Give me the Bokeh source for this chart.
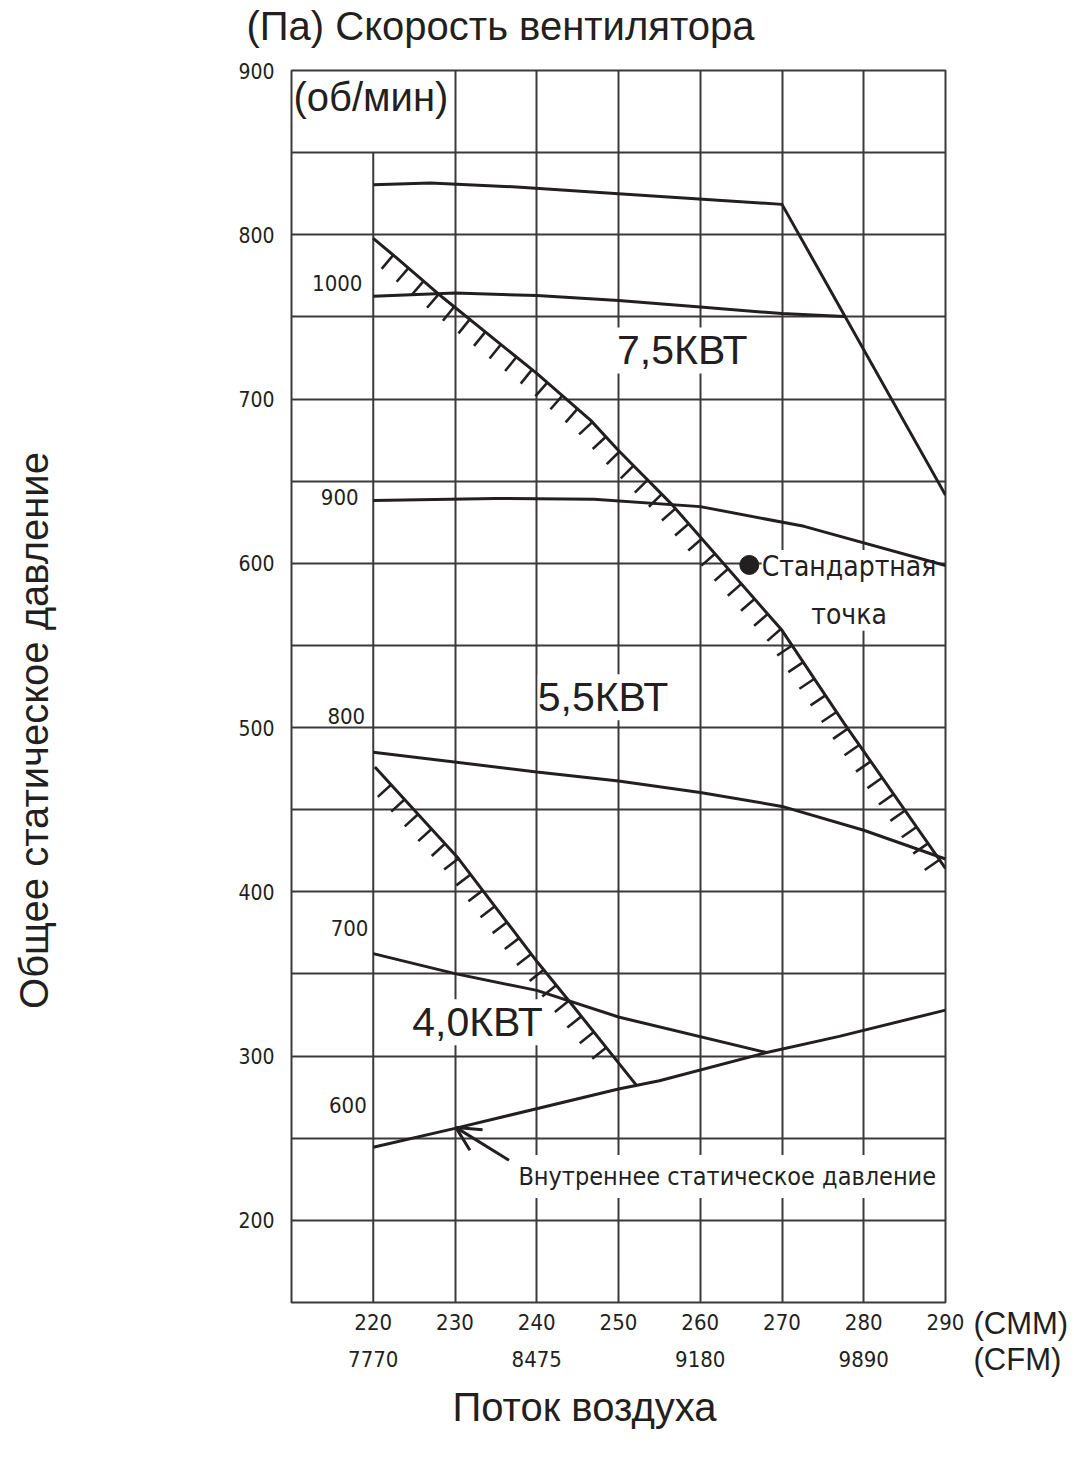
import numpy as np
from bokeh.plotting import figure
from bokeh.layouts import row
from bokeh.models import FixedTicker, LinearAxis, Label, Arrow, OpenHead, Range1d, ColumnDataSource, Title
from bokeh.core.properties import value
from bokeh.embed import file_html
from bokeh.resources import INLINE

# ---------------- data ----------------
x_ticks_cmm = [220, 230, 240, 250, 260, 270, 280, 290]
x_ticks_cfm = [220, 240, 260, 280]
cfm_labels = ["7770", "8475", "9180", "9890"]
y_ticks = [200, 300, 400, 500, 600, 700, 800, 900]
y_grid = [200, 250, 300, 350, 400, 450, 500, 550, 600, 650, 700, 750, 800, 850]
x_grid = [230, 240, 250, 260, 270, 280]

# fan-speed curves
top_x = [220, 227, 238, 250, 270, 290]
top_y = [830.5, 831.5, 829, 825, 818.5, 641.5]
rpm1000_x = [220, 230, 240, 250, 260, 270, 277.6]
rpm1000_y = [762.5, 764.5, 763, 760, 756, 752, 750.3]
rpm900_x = [220, 235, 247, 260, 272.7, 290]
rpm900_y = [638.3, 639.5, 639, 634.5, 622.5, 598.7]
rpm800_x = [220, 240, 250, 260, 270, 280, 290]
rpm800_y = [485, 473, 467.5, 460.5, 452, 437.5, 420]
rpm700_x = [220, 230, 240, 250, 268]
rpm700_y = [362.4, 350.2, 340, 323.8, 302.3]
# internal static pressure
isp_x = [220, 230, 250, 255, 268, 277, 290]
isp_y = [244.5, 256, 280, 285, 302, 312, 328]
# power limit lines
lim75_x = [220, 222.5, 228.5, 240, 246.6, 250, 256.4, 270, 277.6, 290]
lim75_y = [797.8, 787.4, 761.8, 715.6, 687, 668.7, 636.5, 559.2, 502.6, 414.3]
lim40_x = [220.2, 230.4, 240.1, 244.2, 252.2]
lim40_y = [476, 420.4, 357.1, 332, 282.2]
# standard point
std_x = [266]
std_y = [599]
# rpm labels
rpm_names = ["1000", "900", "800", "700", "600"]
rpm_lx = [215.6, 215.9, 216.7, 217.1, 216.9]
rpm_ly = [770.4, 640.4, 506.8, 377.8, 270.1]
unit_names = ["(CMM)", "(CFM)"]
y_title = "Общее статическое давление"

# ---------------- figure ----------------
X0, X1, Y0, Y1 = 210, 290, 150, 900
FW, FH = 654, 1232
TOP, LEFT, RIGHT = 70, 291, 25
LEFT_W = 80
INK = "#231f20"
GRID = "#3a3a3a"
NARROW = "DejaVu Sans Condensed"
SANS = "Liberation Sans"
TOTAL_W, TOTAL_H = 1074, 1463

p = figure(x_range=Range1d(X0, X1), y_range=Range1d(Y0, Y1),
           frame_width=FW, frame_height=FH,
           min_border_left=LEFT - LEFT_W, min_border_right=RIGHT,
           min_border_top=TOP, min_border_bottom=TOTAL_H - TOP - FH,
           output_backend="svg", toolbar_location=None, title=None)
p.background_fill_color = "white"
p.border_fill_color = "white"
p.outline_line_color = GRID
p.outline_line_width = 2

p.xgrid.ticker = FixedTicker(ticks=x_grid)
p.ygrid.ticker = FixedTicker(ticks=y_grid)
for g in (p.xgrid[0], p.ygrid[0]):
    g.grid_line_color = GRID
    g.grid_line_width = 2
grid220_top = 850
p.segment(x0=[220], y0=[Y0], x1=[220], y1=[grid220_top], line_color=GRID, line_width=2)

# axes
ax = p.xaxis[0]
ax.ticker = FixedTicker(ticks=x_ticks_cmm)
ax2 = LinearAxis(ticker=FixedTicker(ticks=x_ticks_cfm),
                 major_label_overrides={k: v for k, v in zip(x_ticks_cfm, cfm_labels)})
p.add_layout(ax2, "below")
ay = p.yaxis[0]
ay.ticker = FixedTicker(ticks=y_ticks)
for a in (ax, ax2, ay):
    a.axis_line_color = None
    a.major_tick_line_color = None
    a.minor_tick_line_color = None
    a.major_tick_out = 0
    a.major_tick_in = 0
    a.major_label_text_font = NARROW
    a.major_label_text_color = INK
ax.major_label_text_font_size = "22px"
ax2.major_label_text_font_size = "22px"
ax.major_label_standoff = 11
ax2.major_label_standoff = 18
ay.major_label_text_font_size = "21px"
ay.major_label_standoff = 17

# titles (a thin spacer panel sits between the frame and the title)
p.add_layout(Title(text=" ", text_font_size="1px", standoff=19), "above")
p.add_layout(Title(text="(Па) Скорость вентилятора", align="left", offset=-45,
                   vertical_align="middle", standoff=0, text_font=SANS,
                   text_font_size="40px", text_font_style="normal", text_color=INK), "above")
p.add_layout(Title(text="Поток воздуха", align="left", offset=161,
                   vertical_align="middle", standoff=28, text_font=SANS,
                   text_font_size="40px", text_font_style="normal", text_color=INK), "below")

# curves
for xs, ys in [(top_x, top_y), (rpm1000_x, rpm1000_y), (rpm900_x, rpm900_y),
               (rpm800_x, rpm800_y), (rpm700_x, rpm700_y), (isp_x, isp_y),
               (lim75_x, lim75_y), (lim40_x, lim40_y)]:
    p.line(xs, ys, line_color=INK, line_width=3)


def hatch(xs, ys, start, step, end_margin):
    sx = (np.array(xs) - X0) / (X1 - X0) * FW
    sy = (np.array(ys) - Y0) / (Y1 - Y0) * FH
    seg = np.hypot(np.diff(sx), np.diff(sy))
    cum = np.concatenate([[0], np.cumsum(seg)])
    hx, hy, ha = [], [], []
    s = start
    while s < cum[-1] - end_margin:
        i = min(int(np.searchsorted(cum, s, side="right")) - 1, len(seg) - 1)
        t = (s - cum[i]) / seg[i]
        px = sx[i] + t * (sx[i + 1] - sx[i])
        py = sy[i] + t * (sy[i + 1] - sy[i])
        dx = (sx[i + 1] - sx[i]) / seg[i]
        dy = (sy[i + 1] - sy[i]) / seg[i]
        hx.append(X0 + px / FW * (X1 - X0))
        hy.append(Y0 + py / FH * (Y1 - Y0))
        ha.append(float(np.arctan2(-dx, dy)))
        s += step
    return hx, hy, ha


for xs, ys, st, mg in [(lim75_x, lim75_y, 26, 8), (lim40_x, lim40_y, 24, 30)]:
    hx, hy, ha = hatch(xs, ys, st, 20, mg)
    p.ray(x=hx, y=hy, length=18, angle=ha, length_units="screen",
          line_color=INK, line_width=2.6)

p.scatter(std_x, std_y, size=19, color=INK)

src = ColumnDataSource(dict(x=rpm_lx, y=rpm_ly, t=rpm_names))
p.text(x="x", y="y", text="t", source=src, text_font=value(NARROW),
       text_font_size="22px", text_align="center", text_baseline="middle",
       text_color=INK)

# arrow to internal static pressure line
p.add_layout(Arrow(end=OpenHead(size=24, line_width=3, line_color=INK),
                   x_start=236.6, y_start=236.6, x_end=230.1, y_end=256.6,
                   line_width=3, line_color=INK))


def lab(x, y, text, font, size, align="center", xo=0, yo=0, bg=False, lh=1.2, pad=0):
    kw = dict(x=x, y=y, text=text, text_font=font, text_font_size=size,
              text_align=align, text_baseline="middle", x_offset=xo, y_offset=yo,
              text_color=INK, text_line_height=lh)
    if bg:
        kw.update(background_fill_color="white", level="underlay")
    if pad:
        kw.update(padding=pad)
    p.add_layout(Label(**kw))


lab(210, 884, "(об/мин)", SANS, "40px", align="left", xo=2)
lab(257.8, 729.6, "7,5КВТ", SANS, "41px", bg=True)
lab(248.1, 518.4, "5,5КВТ", SANS, "41px", bg=True)
lab(232.75, 320.6, "4,0КВТ", SANS, "41px", bg=True)
lab(278.2, 583.5, "Стандартная\nточка", NARROW, "28px", bg=True, lh=1.45)
lab(263.3, 226.7, "Внутреннее статическое давление", NARROW, "25px", bg=True, pad=7)


def side_fig(w):
    f = figure(x_range=Range1d(0, w), y_range=Range1d(TOTAL_H, TOP),
               frame_width=w, frame_height=TOTAL_H - TOP,
               min_border_top=TOP, min_border_bottom=0, min_border_left=0, min_border_right=0,
               x_axis_type=None, y_axis_type=None, output_backend="svg",
               toolbar_location=None, title=None)
    f.outline_line_color = None
    f.background_fill_color = "white"
    f.border_fill_color = "white"
    return f


# y-axis caption (page-pixel coordinates)
pl = side_fig(LEFT_W)
pl.text(x=[33], y=[730], text=[y_title], angle=np.pi / 2, text_font=value(SANS),
        text_font_size="40px", text_align="center", text_baseline="middle", text_color=INK)

# unit captions to the right of the x axis (page-pixel coordinates)
side_w = TOTAL_W - (LEFT + FW + RIGHT)
pr = side_fig(side_w)
pr.text(x=[3, 3], y=[1323, 1359], text=unit_names, text_font=value(SANS),
        text_font_size="31px", text_baseline="middle", text_color=INK)

layout = row(pl, p, pr)
open("out.html", "w").write(file_html(layout, INLINE))
